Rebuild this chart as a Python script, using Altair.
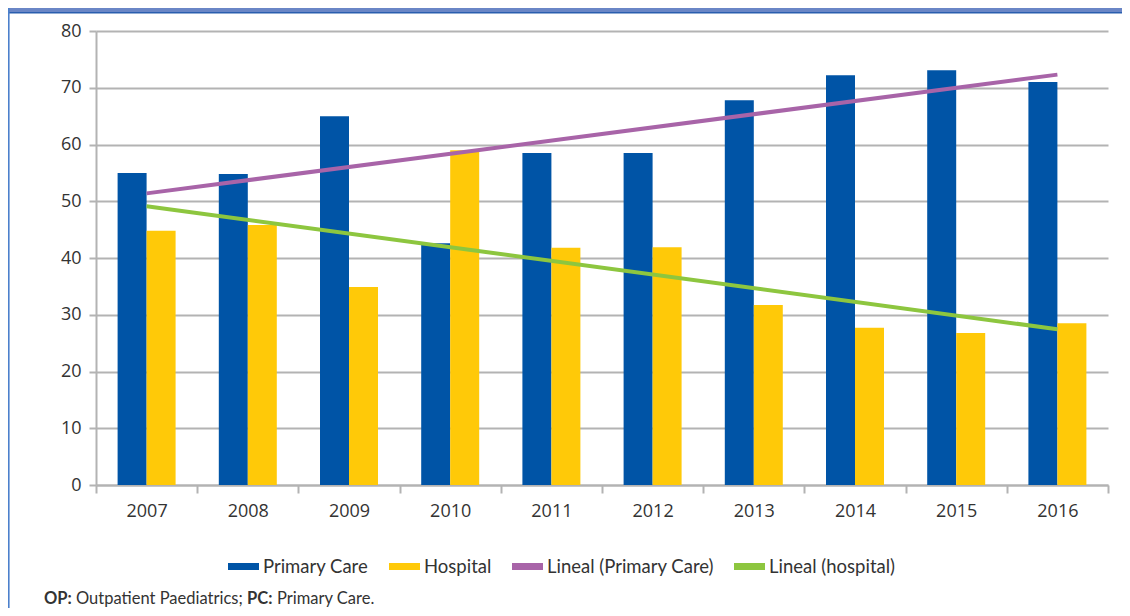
import altair as alt
import pandas as pd

# ---- data ----
years = [2007, 2008, 2009, 2010, 2011, 2012, 2013, 2014, 2015, 2016]
primary_care = [55.0, 54.8, 65.0, 42.6, 58.5, 58.5, 67.8, 72.2, 73.1, 71.0]
hospital = [44.8, 45.8, 34.9, 59.0, 41.8, 41.9, 31.7, 27.7, 26.8, 28.5]
series_names = ["Primary Care", "Hospital"]
trend_names = ["Lineal (Primary Care)", "Lineal (hospital)"]
colors = ["#0054A6", "#FFC908", "#A864A8", "#8DC63F"]
y_ticks = [0, 10, 20, 30, 40, 50, 60, 70, 80]
footnote_bold = ["OP:", "PC:"]
footnote_text = ["Outpatient Paediatrics;", "Primary Care."]

df = pd.DataFrame({
    "year": years * 2,
    "series": [s for s in series_names for _ in years],
    "value": primary_care + hospital,
})
one = pd.DataFrame({"a": [0]})

W, H = 1012, 454
PL, PT, PR = 88, 23, 14
PB = 600 - PT - H

x_enc = alt.X(
    "year:O",
    scale=alt.Scale(paddingInner=0, paddingOuter=0),
    axis=alt.Axis(title=None, labelAngle=0, tickBand="extent", grid=False,
                  tickSize=8, labelPadding=9),
)
y_enc = alt.Y(
    "value:Q",
    scale=alt.Scale(domain=[0, 80], nice=False),
    axis=alt.Axis(title=None, values=y_ticks, grid=True, tickSize=7, labelPadding=8),
)

bars = alt.Chart(df).mark_bar().encode(
    x=x_enc,
    xOffset=alt.XOffset("series:N", sort=series_names,
                        scale=alt.Scale(paddingInner=0, paddingOuter=0.745)),
    y=y_enc,
    color=alt.Color(
        "series:N",
        scale=alt.Scale(domain=series_names + trend_names, range=colors),
        legend=alt.Legend(
            title=None, orient="none", legendX=132, legendY=520,
            direction="horizontal",
            symbolType="M-1,-0.226L1,-0.226L1,0.226L-1,0.226Z",
            symbolSize=961, symbolStrokeWidth=0, symbolOpacity=1,
            labelFont="Lato", labelFontSize=18.5, labelColor="#333333",
            labelOffset=4, columnPadding=20, padding=0, labelLimit=0,
        ),
    ),
)

trend_expr = (f"datum.series === '{series_names[0]}' ? '{trend_names[0]}' : '{trend_names[1]}'")
trend = (
    alt.Chart(df)
    .transform_regression("year", "value", groupby=["series"], method="linear")
    .transform_calculate(trend=trend_expr)
    .mark_line(strokeWidth=4)
    .encode(
        x=alt.X("year:O"),
        y=alt.Y("value:Q"),
        color=alt.Color("trend:N", legend=None),
    )
)

# frame decorations
top_band = alt.Chart(one).mark_rect(color="#6A86C6").encode(
    x=alt.value(-PL), x2=alt.value(W + PR), y=alt.value(-PT), y2=alt.value(-PT + 4))
top_edge = alt.Chart(one).mark_rect(color="#2A5EAE").encode(
    x=alt.value(-PL), x2=alt.value(W + PR), y=alt.value(-PT + 4), y2=alt.value(-PT + 5.5))
left_edge = alt.Chart(one).mark_rect(color="#4C80CC").encode(
    x=alt.value(-PL), x2=alt.value(-PL + 1.6), y=alt.value(-PT), y2=alt.value(H + PB))

fn_y = 573
fn_style = dict(align="left", baseline="alphabetic", font="Lato", fontSize=16.5, color="#333333")
fn1 = alt.Chart(one).mark_text(fontWeight="bold", **fn_style).encode(
    x=alt.value(-52), y=alt.value(fn_y), text=alt.value(footnote_bold[0]))
fn2 = alt.Chart(one).mark_text(**fn_style).encode(
    x=alt.value(-20), y=alt.value(fn_y), text=alt.value(footnote_text[0]))
fn3 = alt.Chart(one).mark_text(fontWeight="bold", **fn_style).encode(
    x=alt.value(151), y=alt.value(fn_y), text=alt.value(footnote_bold[1]))
fn4 = alt.Chart(one).mark_text(**fn_style).encode(
    x=alt.value(181), y=alt.value(fn_y), text=alt.value(footnote_text[1]))

chart = (
    alt.layer(bars, trend, top_band, top_edge, left_edge, fn1, fn2, fn3, fn4)
    .properties(
        width=W, height=H,
        autosize=alt.AutoSizeParams(type="none"),
        padding={"left": PL, "top": PT, "right": PR, "bottom": PB},
        background="white",
    )
    .configure_view(stroke=None)
    .configure_axis(
        domainColor="#B3B3B3", domainWidth=2,
        gridColor="#B3B3B3", gridWidth=2,
        tickColor="#B3B3B3", tickWidth=2,
        labelFont="Open Sans", labelFontSize=18, labelColor="#333333",
    )
)

chart.save("out.html", embed_options={"renderer": "svg", "actions": False})
